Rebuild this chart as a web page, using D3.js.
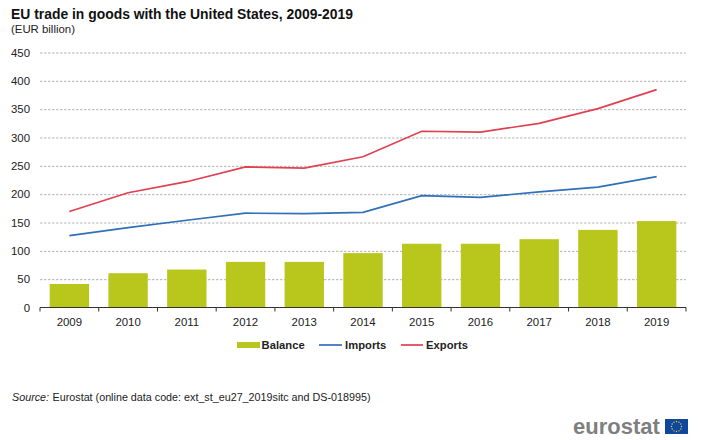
<!DOCTYPE html>
<html>
<head>
<meta charset="utf-8">
<script src="https://cdn.jsdelivr.net/npm/d3@7"></script>
<style>
  html, body { margin: 0; padding: 0; background: #fff; }
  text { font-family: "Liberation Sans", Arial, sans-serif; }
</style>
</head>
<body>
<div id="canvas"></div>
<script>
// values
let years = ["2009", "2010", "2011", "2012", "2013", "2014", "2015", "2016", "2017", "2018", "2019"];
let balance = [41.5, 60.5, 67, 80.5, 80.5, 96, 112.5, 112.5, 120.5, 137, 152.5];
let imports = [127, 141, 154, 166.5, 165.5, 168, 197.5, 194.5, 204, 212.5, 231];
let exports_ = [169.5, 202.5, 222, 248, 246, 266, 311, 309.5, 325, 351, 384.5];
let yTicks = [0, 50, 100, 150, 200, 250, 300, 350, 400, 450];

let green = "#b9c61c", blue = "#2f70b8", red = "#e04050";

let drawing = d3.select("#canvas")
    .append("svg")
    .attr("width", 705)
    .attr("height", 440);

let x = d3.scaleBand().domain(years).range([40, 686]).paddingInner(0.33).paddingOuter(0.165);
let y = d3.scaleLinear().domain([0, 450]).range([307.5, 52.5]);

// title
drawing.append("text").attr("x", 11).attr("y", 19)
    .attr("font-size", 13.9).attr("font-weight", "bold").attr("fill", "#111")
    .text("EU trade in goods with the United States, 2009-2019");
drawing.append("text").attr("x", 11).attr("y", 33)
    .attr("font-size", 11.4).attr("fill", "#222")
    .text("(EUR billion)");

// y axis with dashed gridlines
let yAxis = d3.axisLeft(y).tickValues(yTicks).tickSize(-646).tickPadding(10);
let yG = drawing.append("g").attr("transform", "translate(40,0)").call(yAxis);
yG.select(".domain").remove();
yG.selectAll(".tick line")
    .attr("stroke", "#b4b4b4")
    .attr("stroke-dasharray", "2.5,1.5");
yG.selectAll(".tick").filter(d => d === 0).select("line").remove();
yG.selectAll("text").attr("font-size", 11.4).attr("fill", "#222")
    .style("font-family", '"Liberation Sans", Arial, sans-serif');

// bars
drawing.selectAll(".bar").data(years).enter().append("rect")
    .attr("class", "bar")
    .attr("x", d => x(d))
    .attr("y", (d, i) => y(balance[i]))
    .attr("width", x.bandwidth())
    .attr("height", (d, i) => y(0) - y(balance[i]))
    .attr("fill", green);

// lines
let line = d3.line()
    .x((d, i) => x(years[i]) + x.bandwidth() / 2)
    .y(d => y(d));
drawing.append("path").datum(imports).attr("d", line)
    .attr("fill", "none").attr("stroke", blue).attr("stroke-width", 1.7);
drawing.append("path").datum(exports_).attr("d", line)
    .attr("fill", "none").attr("stroke", red).attr("stroke-width", 1.7);

// x axis, ticks between the categories
let xEdge = d3.scaleLinear().domain([0, years.length]).range([40, 686]);
drawing.append("line").attr("x1", 40).attr("x2", 686).attr("y1", 307.5).attr("y2", 307.5)
    .attr("stroke", "#333");
drawing.selectAll(".xtick").data(d3.range(years.length + 1)).enter().append("line")
    .attr("class", "xtick")
    .attr("x1", d => xEdge(d)).attr("x2", d => xEdge(d))
    .attr("y1", 307.5).attr("y2", 311.5)
    .attr("stroke", "#333");
drawing.selectAll(".xlab").data(years).enter().append("text")
    .attr("class", "xlab")
    .attr("x", d => x(d) + x.bandwidth() / 2)
    .attr("y", 326)
    .attr("text-anchor", "middle")
    .attr("font-size", 11.4).attr("fill", "#222")
    .text(d => d);

// legend
let legendText = (tx, label) => drawing.append("text").attr("x", tx).attr("y", 349)
    .attr("font-size", 11.2).attr("font-weight", "bold").attr("fill", "#222")
    .attr("letter-spacing", 0.05).text(label);
drawing.append("rect").attr("x", 237).attr("y", 342).attr("width", 23).attr("height", 6).attr("fill", green);
legendText(261.5, "Balance");
drawing.append("line").attr("x1", 319).attr("x2", 342).attr("y1", 345).attr("y2", 345).attr("stroke", blue).attr("stroke-width", 1.7);
legendText(345, "Imports");
drawing.append("line").attr("x1", 401).attr("x2", 423).attr("y1", 345).attr("y2", 345).attr("stroke", red).attr("stroke-width", 1.7);
legendText(426, "Exports");

// source
let source = drawing.append("text").attr("x", 12).attr("y", 401).attr("font-size", 10.75).attr("fill", "#222");
source.append("tspan").attr("font-style", "italic").text("Source:");
source.append("tspan").attr("dx", 3.5).text("Eurostat (online data code: ext_st_eu27_2019sitc and DS-018995)");

// eurostat logo
drawing.append("text").attr("x", 573).attr("y", 434)
    .attr("font-size", 22).attr("font-weight", "bold").attr("fill", "#7f7f7f")
    .text("eurostat");
drawing.append("rect").attr("x", 665).attr("y", 419).attr("width", 23).attr("height", 15).attr("fill", "#0f47a0");
drawing.selectAll(".star").data(d3.range(12)).enter().append("circle")
    .attr("class", "star")
    .attr("cx", d => 676.5 + 5 * Math.cos(d * Math.PI / 6))
    .attr("cy", d => 426.5 + 5 * Math.sin(d * Math.PI / 6))
    .attr("r", 0.7)
    .attr("fill", "#e6d820");
</script>
</body>
</html>
